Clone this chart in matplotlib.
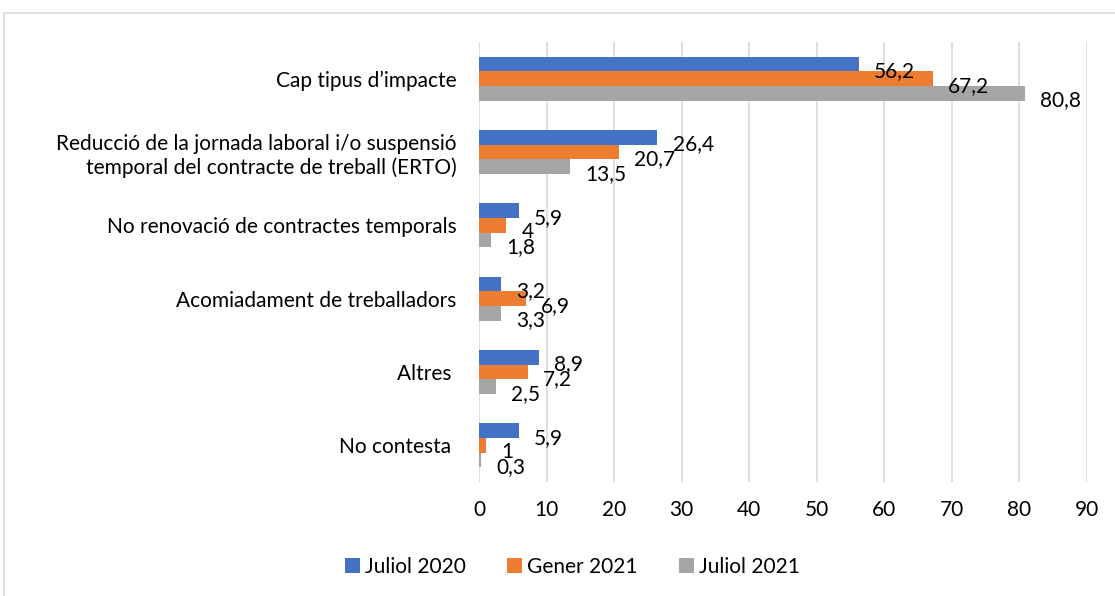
import matplotlib
matplotlib.use('AGG')

import numpy as np
import matplotlib.pyplot as plt
from matplotlib.patches import Rectangle

categories = ["Cap tipus d\u2019impacte",
              "Reducci\u00f3 de la jornada laboral i/o suspensi\u00f3\ntemporal del contracte de treball (ERTO)",
              "No renovaci\u00f3 de contractes temporals",
              "Acomiadament de treballadors",
              "Altres ",
              "No contesta "]
series_names = ["Juliol 2020", "Gener 2021", "Juliol 2021"]
juliol_2020 = [56.2, 26.4, 5.9, 3.2, 8.9, 5.9]
gener_2021 = [67.2, 20.7, 4, 6.9, 7.2, 1]
juliol_2021 = [80.8, 13.5, 1.8, 3.3, 2.5, 0.3]
colors = ['#4472C4', '#ED7D31', '#A5A5A5']

plt.rcParams['font.family'] = ['Lato', 'DejaVu Sans']

fig = plt.figure(figsize=(11.15, 5.96), dpi=100)
fig.patches.append(Rectangle((4 / 1115, -0.1), 1.2, (596 - 13) / 596 + 0.1,
                             transform=fig.transFigure, fill=False,
                             edgecolor='#D9D9D9', linewidth=1.2))
ax = fig.add_axes([479 / 1115, 1 - 482 / 596, (1087 - 479) / 1115, (482 - 42) / 596])

y = np.arange(len(categories))
h = 0.2
for i, (vals, name) in enumerate(zip([juliol_2020, gener_2021, juliol_2021], series_names)):
    pos = y - h + i * h
    ax.barh(pos, vals, height=h, color=colors[i], label=name, zorder=3)
    for p, v in zip(pos, vals):
        ax.annotate(str(v).replace('.', ','), (v, p), xytext=(11, -5),
                    textcoords='offset points', va='center', ha='left',
                    fontsize=15, zorder=4)

ax.set_yticks(y)
ax.set_yticklabels(categories, fontsize=15, linespacing=1.2)
ax.set_ylim(len(categories) - 0.5, -0.5)
ax.set_xlim(0, 90)
ax.set_xticks(np.arange(0, 91, 10))
ax.tick_params(axis='x', labelsize=15, length=0, pad=13)
ax.tick_params(axis='y', length=0, pad=16)
ax.grid(axis='x', color='#D9D9D9', linewidth=1.2, zorder=0)
for s in ax.spines.values():
    s.set_visible(False)

ax.legend(loc='center', bbox_to_anchor=(0.5 + 15 / 1115, 1 - 567 / 596),
          bbox_transform=fig.transFigure, ncol=3, frameon=False,
          fontsize=15, handlelength=0.7, handleheight=0.7,
          handletextpad=0.25, columnspacing=2.0)

fig.savefig('out.png', dpi=100)
